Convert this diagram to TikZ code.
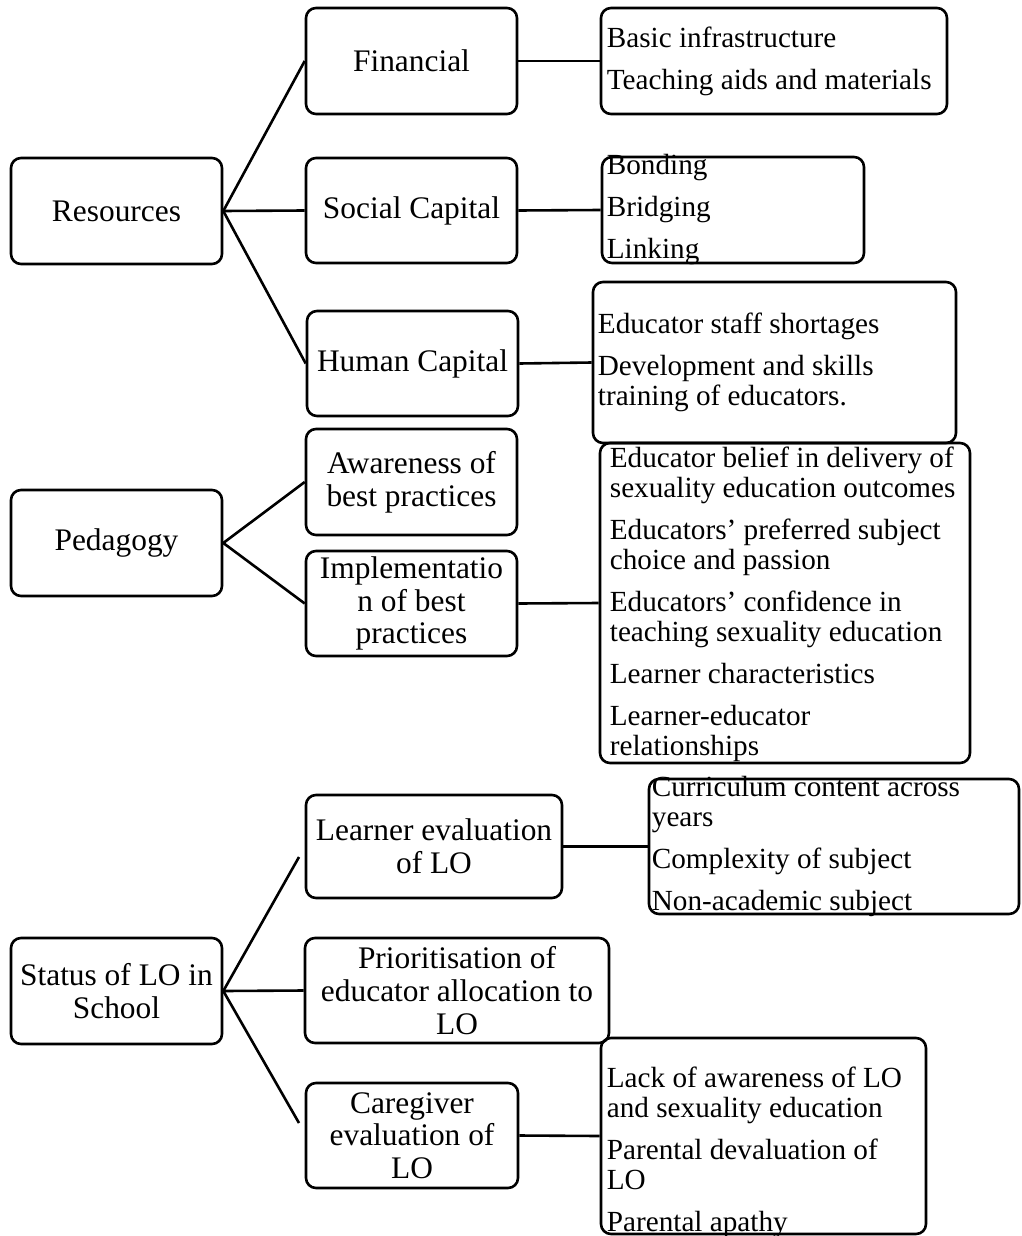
\documentclass[tikz,border=0pt]{standalone}
\usepackage{fontspec}
\setmainfont{Liberation Serif}
\tikzset{
  rbox/.style={draw,line width=2.6pt,rounded corners=10pt,inner sep=0pt},
  theme/.style={rbox,align=center,font=\fontsize{31.4}{32.6}\selectfont},
  itembox/.style={rbox},
  lbl/.style={anchor=west,align=left,inner sep=0pt,font=\fontsize{29.2}{30}\selectfont},
  link/.style={line width=2.6pt}
}
\begin{document}
\begin{tikzpicture}[x=1pt,y=-1pt]
\useasboundingbox (0,0) rectangle (1021,1236);
% Resources
\node[theme,minimum width=211pt,minimum height=106pt] (res) at (116.5,211) {Resources};
\node[theme,minimum width=211pt,minimum height=106pt] (fin) at (411.5,61) {Financial};
\node[theme,minimum width=211pt,minimum height=105pt] (soc) at (411.5,210.5) {Social Capital};
\node[theme,minimum width=211pt,minimum height=105pt] (hum) at (412.5,363.5) {Human Capital};
\node[itembox,minimum width=346pt,minimum height=106pt] (finlist) at (774,61) {};
\node[lbl] (fintxt) at ([shift={(7,0)}]finlist.west) {Basic infrastructure\\[12pt]Teaching aids and materials};
\node[itembox,minimum width=262pt,minimum height=106pt] (soclist) at (733,210) {};
\node[lbl] (soctxt) at ([shift={(6,0)}]soclist.west) {Bonding\\[12pt]Bridging\\[12pt]Linking};
\node[itembox,minimum width=363pt,minimum height=161pt] (humlist) at (774.5,362.5) {};
\node[lbl] (humtxt) at ([shift={(6,0)}]humlist.west) {Educator staff shortages\\[12pt]Development and skills\\training of educators.};
% Pedagogy
\node[theme,minimum width=211pt,minimum height=106pt] (ped) at (116.5,543) {Pedagogy};
\node[theme,minimum width=211pt,minimum height=106pt] (aware) at (411.5,482) {Awareness of\\best practices};
\node[theme,minimum width=211pt,minimum height=105pt] (impl) at (411.5,603.5) {Implementatio\\n of best\\practices};
\node[itembox,minimum width=370pt,minimum height=320pt] (impllist) at (785,603) {};
\node[lbl] (impltxt) at ([shift={(11,1)}]impllist.west) {Educator belief in delivery of\\sexuality education outcomes\\[12pt]Educators’ preferred subject\\choice and passion\\[12pt]Educators’ confidence in\\teaching sexuality education\\[12pt]Learner characteristics\\[12pt]Learner-educator\\relationships};
% Status of LO
\node[theme,minimum width=211pt,minimum height=106pt] (stat) at (116.5,991) {Status of LO in\\School};
\node[theme,minimum width=256pt,minimum height=103pt] (learn) at (434,846.5) {Learner evaluation\\of LO};
\node[theme,minimum width=304pt,minimum height=105pt] (prio) at (457,990.5) {Prioritisation of\\educator allocation to\\LO};
\node[theme,minimum width=212pt,minimum height=105pt] (care) at (412,1135.5) {Caregiver\\evaluation of\\LO};
\node[itembox,minimum width=370pt,minimum height=135pt] (learnlist) at (834,846.5) {};
\node[lbl] (learntxt) at ([shift={(4,0)}]learnlist.west) {Curriculum content across\\years\\[12pt]Complexity of subject\\[12pt]Non-academic subject};
\node[itembox,minimum width=325pt,minimum height=196pt] (carelist) at (763.5,1136) {};
\node[lbl] (caretxt) at ([shift={(7,16)}]carelist.west) {Lack of awareness of LO\\and sexuality education\\[12pt]Parental devaluation of\\LO\\[12pt]Parental apathy};
\coordinate (learnend) at (299,857);
\coordinate (careend) at (299,1123);
% connectors
\draw[link] (res.east) -- (fin.west);
\draw[link] (res.east) -- (soc.west);
\draw[link] (res.east) -- (hum.west);
\draw[link] (fin.east) -- (finlist.west);
\draw[link] (soc.east) -- (soclist.west);
\draw[link] (hum.east) -- (humlist.west);
\draw[link] (ped.east) -- (aware.west);
\draw[link] (ped.east) -- (impl.west);
\draw[link] (impl.east) -- (impllist.west);
\draw[link] (stat.east) -- (learnend);
\draw[link] (stat.east) -- (prio.west);
\draw[link] (stat.east) -- (careend);
\draw[link] (learn.east) -- (learnlist.west);
\draw[link] (care.east) -- (carelist.west);
\end{tikzpicture}
\end{document}
